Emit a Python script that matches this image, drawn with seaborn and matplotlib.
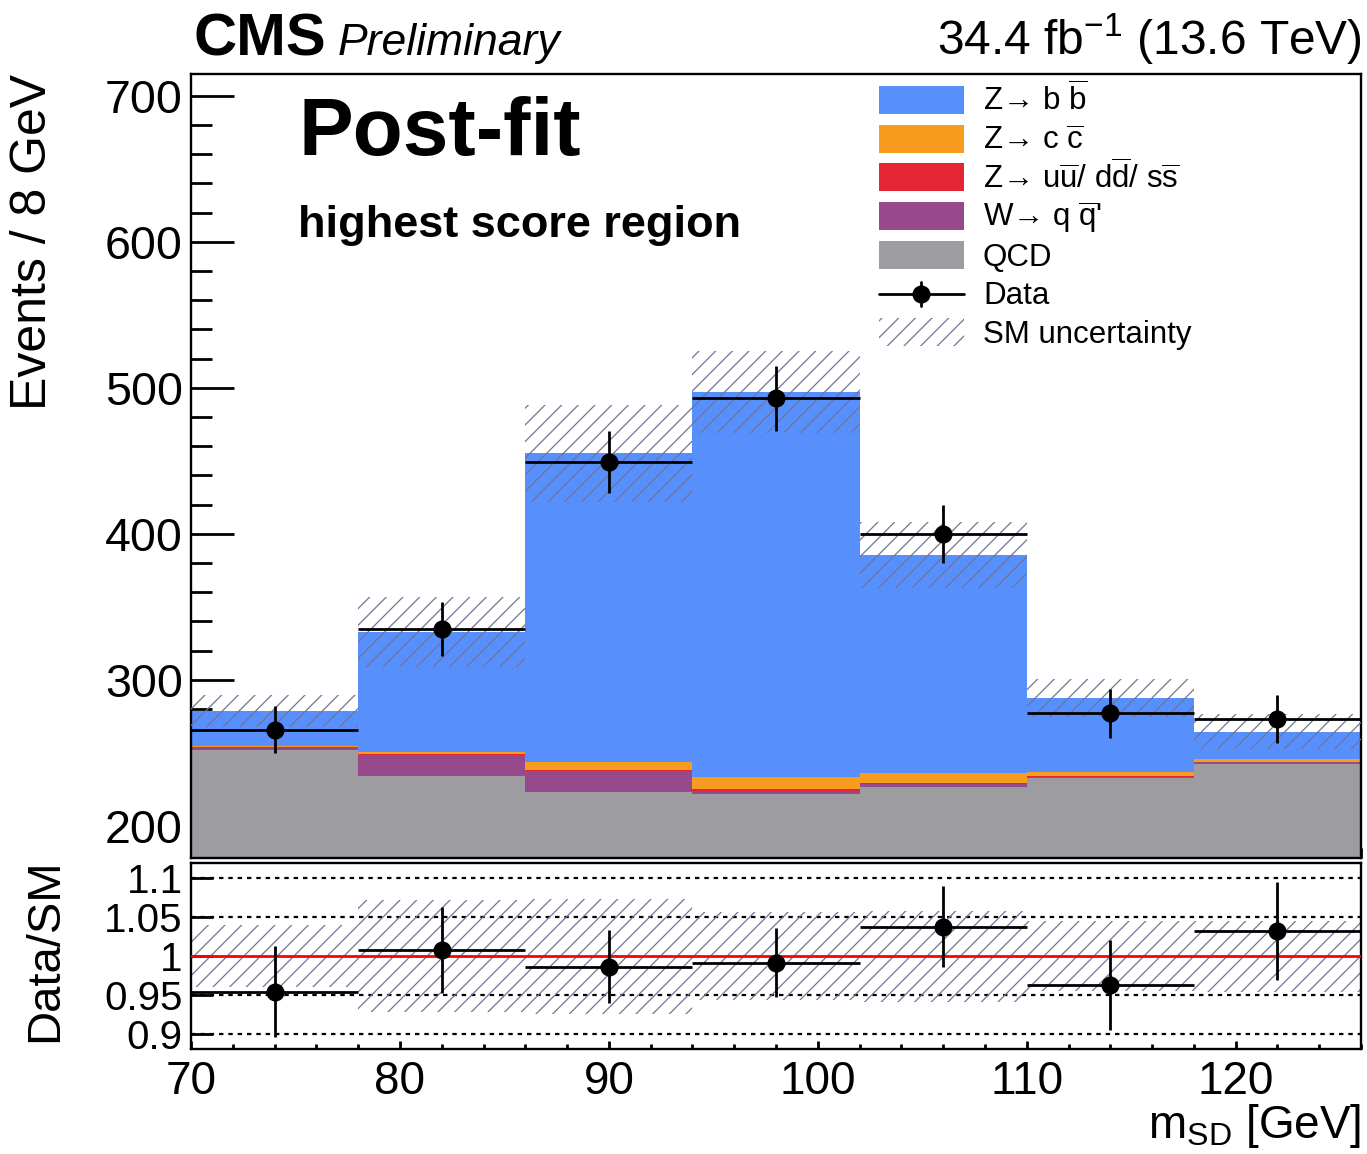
import numpy as np
import pandas as pd
import matplotlib
matplotlib.use("Agg")
import matplotlib.pyplot as plt
import seaborn as sns
from matplotlib.patches import Rectangle
from matplotlib.lines import Line2D
from matplotlib.ticker import MultipleLocator, FixedLocator, NullLocator

# ---- binned inputs: soft-drop mass, 8 GeV bins ----
bin_edges = [70, 78, 86, 94, 102, 110, 118, 126]
process_keys = ["zbb", "zcc", "zqq", "wqq", "qcd"]
legend_labels = [
    "Z\u2192 b $\\overline{\\mathrm{b}}$",
    "Z\u2192 c $\\overline{\\mathrm{c}}$",
    "Z\u2192 u$\\overline{\\mathrm{u}}$/ d$\\overline{\\mathrm{d}}$/ s$\\overline{\\mathrm{s}}$",
    "W\u2192 q $\\overline{\\mathrm{q}}$'",
    "QCD",
]
colors = ["#5790fc", "#f89c20", "#e42536", "#964a8b", "#9c9ca1"]

zbb = [23.9, 81.8, 211.1, 263.6, 149.4, 51.0, 19.0]
zcc = [1.0, 1.5, 5.5, 8.5, 6.5, 2.5, 1.5]
zqq = [0.3, 0.4, 1.0, 1.0, 0.5, 0.3, 0.3]
wqq = [1.8, 14.5, 14.0, 2.5, 2.5, 0.8, 1.5]
qcd = [251.7, 234.3, 223.5, 221.5, 226.5, 233.0, 242.2]
data_counts = [266, 335, 449, 493, 400, 277, 273]
sm_unc = [11, 24, 33.5, 28, 22.5, 13, 12]

# ---- derived arrays ----
edges = np.array(bin_edges, dtype=float)
centers = 0.5 * (edges[1:] + edges[:-1])
half_w = 0.5 * np.diff(edges)
comp = {"zbb": zbb, "zcc": zcc, "zqq": zqq, "wqq": wqq, "qcd": qcd}
total = np.sum([np.array(v) for v in comp.values()], axis=0)
unc = np.array(sm_unc)
data = np.array(data_counts, dtype=float)
data_err = np.sqrt(data)

df = pd.DataFrame(
    [{"msd": c, "events": comp[k][i], "process": k}
     for k in process_keys for i, c in enumerate(centers)]
)

# ---- style ----
sns.set_style("ticks")
plt.rcParams["font.family"] = ["Liberation Sans", "DejaVu Sans"]
plt.rcParams["mathtext.fontset"] = "custom"
plt.rcParams["mathtext.rm"] = "Liberation Sans"
plt.rcParams["mathtext.it"] = "Liberation Sans:italic"
plt.rcParams["mathtext.bf"] = "Liberation Sans:bold"
for key in ["text.color", "axes.labelcolor", "xtick.color", "ytick.color",
            "axes.edgecolor"]:
    plt.rcParams[key] = "black"
plt.rcParams["hatch.linewidth"] = 0.9
hatch_color = "#737394"
HATCH = "//"

W, H = 1367, 1154
fig = plt.figure(figsize=(W / 100, H / 100), dpi=100)
ax = fig.add_axes([191 / W, 1 - 858 / H, 1170 / W, 784 / H])
rax = fig.add_axes([191 / W, 1 - 1049 / H, 1170 / W, 186 / H], sharex=ax)


def fx(px):
    return px / W


def fy(py):
    return 1 - py / H


# ---- main panel: stacked processes ----
sns.histplot(
    data=df, x="msd", weights="events", hue="process",
    hue_order=process_keys, palette=dict(zip(process_keys, colors)),
    multiple="stack", bins=bin_edges, element="step", fill=True,
    alpha=1, linewidth=0, legend=False, ax=ax,
)

tot_step = np.r_[total, total[-1]]
unc_step = np.r_[unc, unc[-1]]
ax.fill_between(edges, tot_step - unc_step, tot_step + unc_step, step="post",
                facecolor="none", edgecolor=hatch_color, hatch=HATCH, linewidth=0,
                zorder=3)

ax.errorbar(centers, data, xerr=half_w, yerr=data_err, fmt="o", color="black",
            ms=12, elinewidth=2, capsize=0, zorder=5)

ax.set_xlim(70, 126)
ax.set_ylim(178, 715)
ax.set_xlabel("")
ax.set_ylabel("Events / 8 GeV", fontsize=36, loc="top", va="baseline")
ax.yaxis.set_label_coords((46 - 191) / 1170, 1.0)

ax.yaxis.set_major_locator(MultipleLocator(100))
ax.yaxis.set_minor_locator(MultipleLocator(20))
ax.xaxis.set_major_locator(MultipleLocator(10))
ax.xaxis.set_minor_locator(MultipleLocator(2))
ax.tick_params(axis="y", which="major", direction="in", length=31, width=2,
               labelsize=33.5, pad=6)
ax.tick_params(axis="y", which="minor", direction="in", length=15, width=2)
ax.tick_params(axis="x", which="major", direction="in", length=14, width=2,
               labelbottom=False)
ax.tick_params(axis="x", which="minor", direction="in", length=7, width=2)
for sp in ax.spines.values():
    sp.set_linewidth(1.7)
    sp.set_visible(True)

ax.text((298 - 191) / 1170, 0.897, "Post-fit", transform=ax.transAxes,
        fontsize=59, fontweight="bold", va="baseline", ha="left")
ax.text((298 - 191) / 1170, 0.7924, "highest score region", transform=ax.transAxes,
        fontsize=32.5, fontweight="bold", va="baseline", ha="left")

# ---- legend, one evenly spaced row per entry ----
row_y = [100, 138.7, 177.4, 216.1, 254.8, 293.5, 332.2]
box_x0, box_x1, box_h, text_x = 879, 964, 28, 983
for yc, c, lab in zip(row_y[:5], colors, legend_labels):
    fig.add_artist(Rectangle((fx(box_x0), fy(yc + box_h / 2)),
                             fx(box_x1 - box_x0), box_h / H,
                             transform=fig.transFigure, facecolor=c,
                             edgecolor="none"))
    fig.text(fx(text_x), fy(yc + 11), lab, fontsize=22.5, va="baseline", ha="left")

yc = row_y[5]
fig.add_artist(Line2D([fx(box_x0), fx(box_x1)], [fy(yc), fy(yc)],
                      transform=fig.transFigure, color="black", lw=2))
fig.add_artist(Line2D([fx(921), fx(921)], [fy(yc - 12), fy(yc + 12)],
                      transform=fig.transFigure, color="black", lw=2))
fig.add_artist(Line2D([fx(921)], [fy(yc)], transform=fig.transFigure,
                      color="black", marker="o", ms=12, lw=0))
fig.text(fx(text_x), fy(yc + 11), "Data", fontsize=22.5, va="baseline", ha="left")

yc = row_y[6]
fig.add_artist(Rectangle((fx(box_x0), fy(yc + box_h / 2)),
                         fx(box_x1 - box_x0), box_h / H,
                         transform=fig.transFigure, facecolor="none",
                         edgecolor=hatch_color, hatch=HATCH, linewidth=0))
fig.text(fx(text_x), fy(yc + 11), "SM uncertainty", fontsize=22.5,
         va="baseline", ha="left")

# ---- header ----
fig.text(fx(193), fy(55), "CMS", fontsize=43, fontweight="bold",
         va="baseline", ha="left")
fig.text(fx(338), fy(55), "Preliminary", fontsize=32, fontstyle="italic",
         va="baseline", ha="left")
fig.text(fx(1362), fy(55), r"34.4 fb$^{-1}$ (13.6 TeV)", fontsize=34.5,
         va="baseline", ha="right")

# ---- ratio panel ----
for lvl in [0.9, 0.95, 1.05, 1.1]:
    rax.axhline(lvl, color="black", lw=1.6, ls=(0, (2, 2.2)), zorder=1)
rel = unc / total
rel_step = np.r_[rel, rel[-1]]
rax.fill_between(edges, 1 - rel_step, 1 + rel_step, step="post",
                 facecolor="none", edgecolor=hatch_color, hatch=HATCH, linewidth=0,
                 zorder=2)
rax.axhline(1.0, color="red", lw=2, zorder=3)
rax.errorbar(centers, data / total, xerr=half_w, yerr=data_err / total, fmt="o",
             color="black", ms=12, elinewidth=2, capsize=0, zorder=5)

rax.set_ylim(0.881, 1.1195)
rax.yaxis.set_major_locator(FixedLocator([0.9, 0.95, 1.0, 1.05, 1.1]))
rax.set_yticklabels(["0.9", "0.95", "1", "1.05", "1.1"])
rax.yaxis.set_minor_locator(NullLocator())
rax.tick_params(axis="y", which="major", direction="in", length=16, width=2,
                labelsize=29, pad=6)
rax.tick_params(axis="x", which="major", direction="in", length=6, width=2,
                labelsize=33, pad=8)
rax.tick_params(axis="x", which="minor", direction="in", length=3.5, width=2)
for sp in rax.spines.values():
    sp.set_linewidth(1.7)
    sp.set_visible(True)

rax.set_ylabel("Data/SM", fontsize=34, va="baseline")
rax.yaxis.set_label_coords((57 - 191) / 1170, 0.53)
rax.set_xlabel(r"m$_{\mathrm{SD}}$ [GeV]", fontsize=33, loc="right", va="baseline")
rax.xaxis.set_label_coords(1.0, -0.476)

fig.savefig("out.png", dpi=100)
